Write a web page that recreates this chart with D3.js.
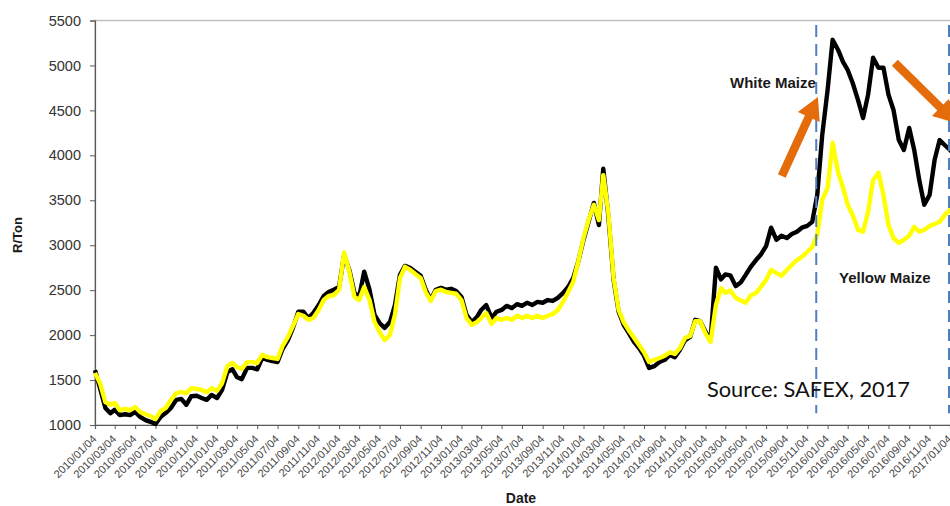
<!DOCTYPE html>
<html>
<head>
<meta charset="utf-8">
<script src="https://cdn.jsdelivr.net/npm/d3@7"></script>
<style>
  html, body { margin: 0; padding: 0; background: #fff; }
  svg { display: block; }
  text { font-family: "Liberation Sans", Arial, sans-serif; }
</style>
</head>
<body>
<svg id="chart" width="950" height="506"></svg>
<script>
// Prices are sampled twice a month (the 4th and the 19th), Jan 2010 to Jan 2017.
const sampleMonths = d3.timeMonth.range(new Date(2010, 0, 1), new Date(2017, 1, 1));
const sampleDays = [4, 19];

// SAFEX white maize spot price, R/ton
const whiteMaize = [
  1610,1410,1190,1130,1170,1110,1120,1110,1145,1090,
  1055,1035,1010,1090,1135,1190,1280,1290,1225,1320,
  1325,1300,1280,1335,1300,1390,1590,1620,1535,1510,
  1635,1635,1620,1745,1725,1710,1700,1845,1945,2080,
  2260,2260,2190,2245,2335,2435,2480,2505,2535,2890,
  2720,2470,2425,2705,2505,2225,2135,2080,2145,2335,
  2670,2770,2745,2705,2660,2505,2390,2505,2525,2505,
  2515,2490,2425,2225,2145,2200,2280,2335,2190,2260,
  2280,2325,2300,2345,2325,2360,2335,2370,2360,2390,
  2380,2415,2470,2535,2635,2815,3060,3260,3470,3225,
  3850,3335,2615,2260,2115,2025,1925,1855,1770,1635,
  1655,1700,1725,1780,1755,1835,1945,1980,2170,2155,
  2035,1945,2750,2620,2675,2665,2545,2585,2670,2760,
  2835,2900,2990,3195,3060,3105,3080,3125,3150,3195,
  3215,3260,3560,4230,4730,5285,5175,5040,4950,4805,
  4615,4415,4675,5085,4975,4975,4675,4505,4170,4060,
  4305,4060,3725,3450,3560,3950,4170,4115,4060,4000
];

// SAFEX yellow maize spot price, R/ton
const yellowMaize = [
  1580,1465,1255,1225,1245,1165,1180,1165,1200,1145,
  1120,1100,1065,1155,1190,1280,1355,1365,1355,1410,
  1400,1390,1365,1410,1380,1465,1655,1690,1645,1625,
  1700,1700,1690,1780,1755,1745,1735,1880,1980,2100,
  2235,2215,2170,2190,2280,2390,2435,2445,2505,2920,
  2700,2425,2390,2535,2390,2145,2035,1945,2000,2225,
  2635,2760,2725,2680,2635,2480,2380,2490,2505,2480,
  2470,2460,2390,2190,2115,2145,2190,2245,2125,2190,
  2170,2190,2170,2215,2190,2215,2190,2215,2190,2215,
  2235,2280,2370,2480,2590,2815,3080,3280,3450,3280,
  3780,3370,2635,2280,2145,2055,1970,1890,1810,1700,
  1725,1745,1770,1810,1790,1855,1970,1990,2155,2155,
  2015,1925,2335,2520,2470,2495,2415,2385,2360,2440,
  2470,2540,2615,2725,2690,2660,2725,2780,2835,2870,
  2925,2980,3115,3505,3640,4140,3815,3640,3450,3335,
  3170,3150,3370,3725,3805,3560,3225,3080,3025,3060,
  3105,3205,3150,3170,3215,3235,3260,3335,3395,3400
];

const yTicks = [1000, 1500, 2000, 2500, 3000, 3500, 4000, 4500, 5000, 5500];
// Axis labels every two months, on the 4th
const xTickDates = d3.range(0, 85, 2).map(m => new Date(2010, m, 4));
// Period markers and trend arrows, in chart units
const periodMarkers = [new Date(2015, 11, 1), new Date(2017, 0, 1)];
const trendArrows = [
  { from: [new Date(2015, 7, 20), 3770], to: [new Date(2015, 11, 6), 4650] },
  { from: [new Date(2016, 6, 23), 5030], to: [new Date(2017, 0, 22), 4360] }
];

const sampleDates = [];
sampleMonths.forEach(m => sampleDays.forEach(d => sampleDates.push(new Date(m.getFullYear(), m.getMonth(), d))));

const svg = d3.select("#chart");
const plotLeft = 95, plotTop = 20.5, plotBottom = 425, plotRight = 950;

const x = d3.scaleTime()
  .domain([new Date(2010, 0, 4), new Date(2017, 0, 4)])
  .range([plotLeft, plotRight]);
const y = d3.scaleLinear().domain([1000, 5500]).range([plotBottom, plotTop]);

// plot area frame
svg.append("rect")
  .attr("x", plotLeft).attr("y", plotTop)
  .attr("width", 1000).attr("height", plotBottom - plotTop)
  .attr("fill", "none").attr("stroke", "#c0c0c0").attr("stroke-width", 1.5);

// y axis
const yAxis = svg.append("g").attr("transform", `translate(${plotLeft},0)`)
  .call(d3.axisLeft(y).tickValues(yTicks).tickSize(5).tickPadding(9).tickFormat(d3.format("d")));
yAxis.select(".domain").attr("stroke", "#5a5a5a").attr("stroke-width", 1.2);
yAxis.selectAll(".tick line").attr("stroke", "#5a5a5a");
yAxis.selectAll(".tick text")
  .attr("fill", "#333").style("font-size", "14.5px")
  .style("font-family", '"Liberation Sans", Arial, sans-serif');

// x axis
const fmt = d3.timeFormat("%Y/%m/%d");
const xAxis = svg.append("g").attr("transform", `translate(0,${plotBottom})`)
  .call(d3.axisBottom(x).tickValues(xTickDates).tickSize(4).tickFormat(fmt));
xAxis.select(".domain").attr("stroke", "#5a5a5a").attr("stroke-width", 1.2);
xAxis.selectAll(".tick line").attr("stroke", "#5a5a5a");
xAxis.selectAll(".tick text")
  .attr("fill", "#444").style("font-size", "11px")
  .style("font-family", '"Liberation Sans", Arial, sans-serif')
  .attr("text-anchor", "end")
  .attr("x", 0).attr("y", 0).attr("dy", "0.35em")
  .attr("transform", "translate(-1,12) rotate(-45)");

// series
const line = values => d3.line()
  .x((d, i) => x(sampleDates[i]))
  .y(d => y(d))(values);

svg.append("path").attr("d", line(whiteMaize))
  .attr("fill", "none").attr("stroke", "#000").attr("stroke-width", 4.4)
  .attr("stroke-linejoin", "round");
svg.append("path").attr("d", line(yellowMaize))
  .attr("fill", "none").attr("stroke", "#ffff00").attr("stroke-width", 4.4)
  .attr("stroke-linejoin", "round");

// dashed period markers
svg.selectAll("line.marker").data(periodMarkers).enter().append("line")
  .attr("class", "marker")
  .attr("x1", d => x(d)).attr("x2", d => x(d))
  .attr("y1", y(5450)).attr("y2", y(1130))
  .attr("stroke", "#4f7fc0").attr("stroke-width", 2)
  .attr("stroke-dasharray", "12,7");

// trend arrows
function arrowPath(p0, p1, shaft, headW, headL) {
  const dx = p1[0] - p0[0], dy = p1[1] - p0[1];
  const len = Math.hypot(dx, dy);
  const ux = dx / len, uy = dy / len, nx = -uy, ny = ux;
  const bx = p1[0] - ux * headL, by = p1[1] - uy * headL;
  const pts = [
    [p0[0] + nx * shaft / 2, p0[1] + ny * shaft / 2],
    [bx + nx * shaft / 2, by + ny * shaft / 2],
    [bx + nx * headW / 2, by + ny * headW / 2],
    p1,
    [bx - nx * headW / 2, by - ny * headW / 2],
    [bx - nx * shaft / 2, by - ny * shaft / 2],
    [p0[0] - nx * shaft / 2, p0[1] - ny * shaft / 2]
  ];
  return "M" + pts.map(p => p.join(",")).join("L") + "Z";
}
svg.selectAll("path.arrow").data(trendArrows).enter().append("path")
  .attr("class", "arrow")
  .attr("d", a => arrowPath([x(a.from[0]), y(a.from[1])], [x(a.to[0]), y(a.to[1])], 8.5, 24, 22))
  .attr("fill", "#e46c0a");

// annotations
svg.append("text").attr("x", 730).attr("y", 88)
  .style("font-size", "15px").style("font-weight", "bold").attr("fill", "#1a1a1a")
  .text("White Maize");
svg.append("text").attr("x", 839).attr("y", 283)
  .style("font-size", "15px").style("font-weight", "bold").attr("fill", "#1a1a1a")
  .text("Yellow Maize");
svg.append("text").attr("x", 707).attr("y", 397)
  .style("font-family", "Lato, 'Open Sans', sans-serif").style("font-weight", "400")
  .style("font-size", "22px").attr("fill", "#111")
  .attr("textLength", 203).attr("lengthAdjust", "spacingAndGlyphs")
  .text("Source: SAFEX, 2017");

// axis titles
svg.append("text")
  .attr("transform", "translate(22,235) rotate(-90)")
  .attr("text-anchor", "middle")
  .style("font-size", "13px").style("font-weight", "bold").attr("fill", "#1a1a1a")
  .text("R/Ton");
svg.append("text").attr("x", 521).attr("y", 503)
  .attr("text-anchor", "middle")
  .style("font-size", "14px").style("font-weight", "bold").attr("fill", "#1a1a1a")
  .text("Date");
</script>
</body>
</html>
